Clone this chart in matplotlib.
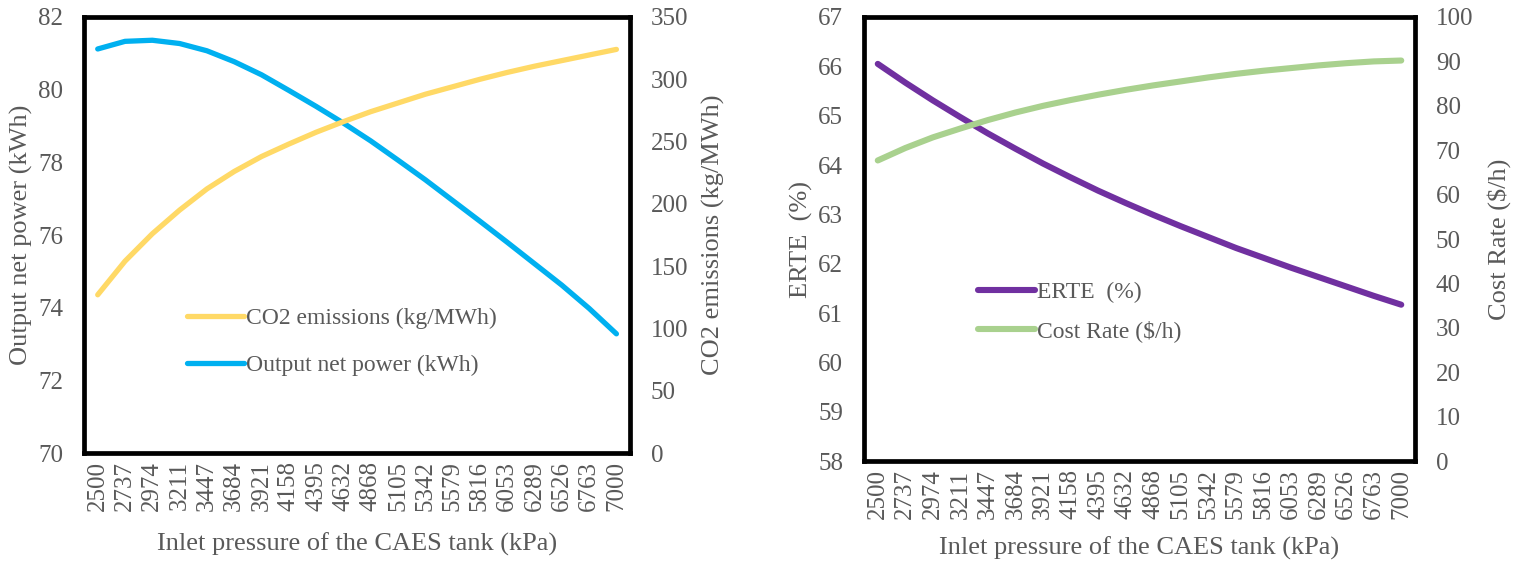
import matplotlib
matplotlib.use("Agg")
import matplotlib.pyplot as plt

plt.rcParams['font.family'] = ['Liberation Serif', 'DejaVu Serif']
GRAY = '#595959'

# ---- data ----
pressure = ['2500', '2737', '2974', '3211', '3447', '3684', '3921', '4158', '4395', '4632',
            '4868', '5105', '5342', '5579', '5816', '6053', '6289', '6526', '6763', '7000']

net_power = [81.12, 81.33, 81.36, 81.27, 81.07, 80.77, 80.41, 79.98, 79.54, 79.08,
             78.59, 78.06, 77.52, 76.95, 76.38, 75.80, 75.21, 74.62, 73.98, 73.28]
co2 = [127, 154, 176, 195, 212, 226, 238, 248, 257.5, 266,
       274, 281, 288, 294, 300, 305.5, 310.5, 315, 319.5, 324]

erte = [66.05, 65.67, 65.31, 64.97, 64.64, 64.33, 64.03, 63.75, 63.48, 63.23,
        62.99, 62.76, 62.54, 62.32, 62.12, 61.92, 61.73, 61.54, 61.35, 61.17]
cost_rate = [67.7, 70.5, 72.9, 74.9, 76.8, 78.5, 80.0, 81.3, 82.5, 83.6,
             84.6, 85.5, 86.4, 87.2, 87.9, 88.5, 89.1, 89.6, 90.0, 90.2]

FS = 18      # tick labels
LFS = 19     # axis titles
x = list(range(len(pressure)))

fig = plt.figure(figsize=(15.23, 5.61), dpi=100)

def style(ax, twin):
    for s in ax.spines.values():
        s.set_linewidth(3.4)
        s.set_color('black')
    ax.tick_params(length=0, labelsize=FS, labelcolor=GRAY)
    twin.tick_params(length=0, labelsize=FS, labelcolor=GRAY, pad=15)
    ax.tick_params(axis='y', pad=15)
    ax.tick_params(axis='x', pad=6)
    ax.set_xticks(x)
    ax.set_xticklabels(pressure, rotation=90)
    ax.set_xlim(-0.5, len(x) - 0.5)
    for s in twin.spines.values():
        s.set_visible(False)

# ---- left panel ----
ax1 = fig.add_axes([0.0552, 0.1925, 0.3585, 0.7772])
ax1b = ax1.twinx()
l_co2, = ax1b.plot(x, co2, color='#FFD966', lw=3.8, solid_capstyle='round', label='CO2 emissions (kg/MWh)')
l_pow, = ax1.plot(x, net_power, color='#00B0F0', lw=3.8, solid_capstyle='round', label='Output net power (kWh)')
ax1.set_ylim(70, 82)
ax1.set_yticks(range(70, 83, 2))
ax1b.set_ylim(0, 350)
ax1b.set_yticks(range(0, 351, 50))
style(ax1, ax1b)
ax1.set_ylabel('Output net power (kWh)', fontsize=LFS, color=GRAY, labelpad=4)
ax1b.set_ylabel('CO2 emissions (kg/MWh)', fontsize=LFS, color=GRAY, labelpad=10)
ax1.set_xlabel('Inlet pressure of the CAES tank (kPa)', fontsize=LFS, color=GRAY, labelpad=15)
leg1 = ax1b.legend(handles=[l_co2, l_pow], loc='center left', bbox_to_anchor=(0.171, 0.255),
                   borderaxespad=0, frameon=False, fontsize=17, handlelength=2.4,
                   handletextpad=0.1, labelspacing=1.1)
for t in leg1.get_texts():
    t.set_color(GRAY)

# ---- right panel ----
ax2 = fig.add_axes([0.5673, 0.178, 0.3618, 0.7917])
ax2b = ax2.twinx()
l_erte, = ax2.plot(x, erte, color='#7030A0', lw=4.4, solid_capstyle='round', label='ERTE  (%)')
l_cost, = ax2b.plot(x, cost_rate, color='#A9D18E', lw=4.4, solid_capstyle='round', label='Cost Rate ($/h)')
ax2.set_ylim(58, 67)
ax2.set_yticks(range(58, 68))
ax2b.set_ylim(0, 100)
ax2b.set_yticks(range(0, 101, 10))
style(ax2, ax2b)
ax2.set_ylabel('ERTE  (%)', fontsize=LFS, color=GRAY, labelpad=4)
ax2b.set_ylabel('Cost Rate ($/h)', fontsize=LFS, color=GRAY, labelpad=10)
ax2.set_xlabel('Inlet pressure of the CAES tank (kPa)', fontsize=LFS, color=GRAY, labelpad=12)
leg2 = ax2b.legend(handles=[l_erte, l_cost], loc='center left', bbox_to_anchor=(0.19, 0.336),
                   borderaxespad=0, frameon=False, fontsize=17, handlelength=2.4,
                   handletextpad=0.1, labelspacing=0.75)
for t in leg2.get_texts():
    t.set_color(GRAY)

fig.savefig('out.png', dpi=100)
